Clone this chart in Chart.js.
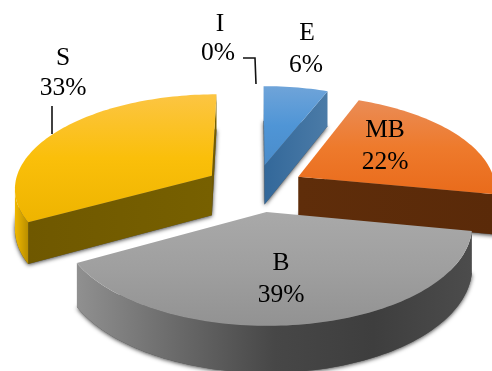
<!DOCTYPE html>
<html>
<head>
<meta charset="utf-8">
<title>Pie</title>
<style>html,body{margin:0;padding:0;background:#fff;overflow:hidden}canvas{display:block}</style>
<script src="https://cdn.jsdelivr.net/npm/chart.js@4/dist/chart.umd.js"></script>
</head>
<body>
<canvas id="pie" width="492" height="371"></canvas>
<script>
// Share of each class, clockwise from twelve o'clock
const categories = ['E', 'MB', 'B', 'S', 'I'];
const shares = [6, 22, 39, 33, 0];
// How far each wedge is pulled out, in percent of the pie radius
const explode = [25, 25, 25, 26, 0];
// Extra sideways placement of each wedge, in pixels
const sideShift = [0, 0, 3, 0, 0];

// Wedge colours: top face gradient, cut-face gradient, outer-wall gradient
const topColours = [
  ['#6fa4d9', '#4f95d6', '#4a8cca'],
  ['#ea8c56', '#ee7a2c', '#e96b1b'],
  ['#a9a9a9', '#9f9f9f', '#929292'],
  ['#fcc543', '#fabf0a', '#eeb400'],
  ['#888888', '#888888', '#888888']
];
const cutColours = [
  ['#33689a', '#4b7ba7'],
  ['#5f2d0a', '#5a2a09'],
  ['#555555', '#555555'],
  ['#6f5800', '#776000'],
  ['#888888', '#888888']
];
const wallColours = [
  ['#4b7ba7', '#4b7ba7'],
  ['#5f2d0a', '#5a2a09'],
  ['#909090', '#6a6a6a', '#474747', '#3e3e3e', '#4c4c4c'],
  ['#f0b800', '#b98e00'],
  ['#888888', '#888888']
];
// Draw order: rear wedges first so the front ones overlap them
const drawOrder = [0, 3, 1, 2];

// Label text anchors: [name x, name y, percent x, percent y]
const labelSpots = [
  [307, 33, 306, 65],
  [385, 130, 385, 162],
  [281, 263, 281, 295],
  [63, 58, 63, 88],
  [220, 24, 218, 53]
];
const leaderLines = [
  [[52, 106], [52, 134]],
  [[243, 58], [255, 58], [256, 84]]
];

// Tilted, slightly perspective view of the pie plane
const view = {cx: 255.5, cy: 188, rx: 198, ry: 94, persp: 0.12, depth: 40};
function project(u, v, z) {
  const s = 1 / (1 + view.persp * v);
  return [view.cx + view.rx * u * s, view.cy - view.ry * v * s + z * s];
}

function tracePath(ctx, pts) {
  ctx.beginPath();
  pts.forEach((p, i) => i ? ctx.lineTo(p[0], p[1]) : ctx.moveTo(p[0], p[1]));
  ctx.closePath();
}
function ramp(ctx, x0, y0, x1, y1, colours) {
  const g = ctx.createLinearGradient(x0, y0, x1, y1);
  colours.forEach((c, i) => g.addColorStop(i / (colours.length - 1), c));
  return g;
}
function bounds(pts) {
  const xs = pts.map(p => p[0]), ys = pts.map(p => p[1]);
  return {l: Math.min(...xs), r: Math.max(...xs), t: Math.min(...ys), b: Math.max(...ys)};
}
function signedArea(pts) {
  let a = 0;
  pts.forEach((p, i) => {
    const q = pts[(i + 1) % pts.length];
    a += p[0] * q[1] - q[0] * p[1];
  });
  return a;
}

// Extrudes each arc element the pie controller laid out
const wedgeSolids = {
  id: 'wedgeSolids',
  beforeDatasetDraw(chart) {
    const ctx = chart.ctx;
    const arcs = chart.getDatasetMeta(0).data;
    drawOrder.forEach(i => {
      const el = arcs[i];
      const a0 = el.startAngle, a1 = el.endAngle;
      if (a1 - a0 <= 0) return;
      const mid = (a0 + a1) / 2;
      const e = explode[i] / 100;
      const ou = e * Math.cos(mid), ov = -e * Math.sin(mid);
      const at = (a, r, z) => {
        const p = project(ou + r * Math.cos(a), ov - r * Math.sin(a), z);
        return [p[0] + sideShift[i], p[1]];
      };
      const rim = z => {
        const n = Math.max(8, Math.round((a1 - a0) * 40));
        const out = [];
        for (let k = 0; k <= n; k++) out.push(at(a0 + (a1 - a0) * k / n, 1, z));
        return out;
      };
      const d = view.depth;
      const topRim = rim(0), lowRim = rim(d);
      const apexTop = at(0, 0, 0), apexLow = at(0, 0, d);

      // soft drop shadow under the solid
      const floor = [apexLow, ...lowRim];
      ctx.save();
      ctx.shadowColor = 'rgba(0,0,0,0.75)';
      ctx.shadowBlur = 4;
      ctx.shadowOffsetX = 0;
      ctx.shadowOffsetY = 1;
      ctx.fillStyle = '#555';
      tracePath(ctx, floor);
      ctx.fill();
      ctx.restore();

      // radial cut faces
      [[topRim[0], lowRim[0], apexLow, apexTop],
       [apexTop, apexLow, lowRim[lowRim.length - 1], topRim[topRim.length - 1]]].forEach(q => {
        if (signedArea(q) > 0) return;
        const b = bounds(q);
        ctx.fillStyle = ramp(ctx, b.l, 0, b.r, 0, cutColours[i]);
        tracePath(ctx, q);
        ctx.fill();
      });

      // outer wall: one path over the run of rim segments facing the viewer
      const seen = [];
      for (let k = 0; k < topRim.length - 1; k++) {
        const q = [topRim[k], topRim[k + 1], lowRim[k + 1], lowRim[k]];
        if (signedArea(q) < 0) seen.push(k);
      }
      if (seen.length) {
        const first = seen[0], last = seen[seen.length - 1] + 1;
        const wall = [...topRim.slice(first, last + 1), ...lowRim.slice(first, last + 1).reverse()];
        const wb = bounds(wall);
        ctx.fillStyle = ramp(ctx, wb.l, 0, wb.r, 0, wallColours[i]);
        tracePath(ctx, wall);
        ctx.fill();
      }

      // top face
      const face = [apexTop, ...topRim];
      const fb = bounds(face);
      ctx.fillStyle = ramp(ctx, 0, fb.t, 0, fb.b, topColours[i]);
      tracePath(ctx, face);
      ctx.fill();
    });
    return false;
  },
  afterDraw(chart) {
    const ctx = chart.ctx;
    ctx.save();
    ctx.strokeStyle = '#111';
    ctx.lineWidth = 1.6;
    leaderLines.forEach(line => {
      ctx.beginPath();
      line.forEach((p, i) => i ? ctx.lineTo(p[0], p[1]) : ctx.moveTo(p[0], p[1]));
      ctx.stroke();
    });
    ctx.fillStyle = '#000';
    ctx.font = '25.5px "Liberation Serif"';
    ctx.textAlign = 'center';
    ctx.textBaseline = 'middle';
    categories.forEach((name, i) => {
      const s = labelSpots[i];
      ctx.fillText(name, s[0], s[1]);
      ctx.fillText(shares[i] + '%', s[2], s[3]);
    });
    ctx.restore();
  }
};

new Chart(document.getElementById('pie'), {
  type: 'pie',
  data: {
    labels: categories,
    datasets: [{data: shares, borderWidth: 0, offset: explode}]
  },
  options: {
    responsive: false,
    animation: false,
    plugins: {legend: {display: false}, tooltip: {enabled: false}}
  },
  plugins: [wedgeSolids]
});
</script>
</body>
</html>
